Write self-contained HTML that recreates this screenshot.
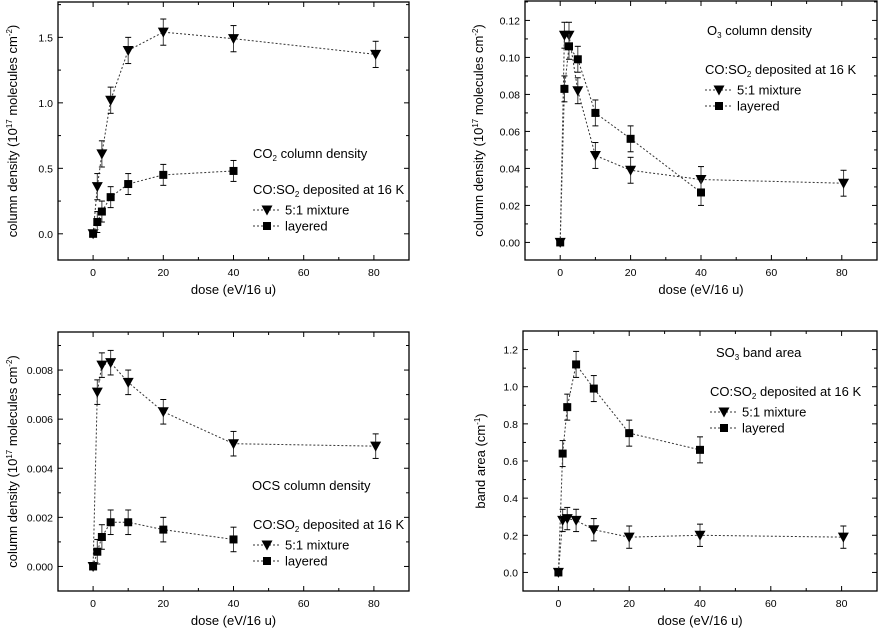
<!DOCTYPE html>
<html><head><meta charset="utf-8"><style>
body{margin:0;background:#fff}
svg{display:block;font-family:"Liberation Sans",Arial,sans-serif}
</style></head><body>
<svg id="s" width="878" height="628" viewBox="0 0 878 628"></svg>
<script>
const doseMix=[0,1.2,2.5,5,10,20,40,80.5];
const doseLay=[0,1.2,2.5,5,10,20,40];
const co2Mix=[0,0.36,0.61,1.02,1.40,1.54,1.49,1.37];
const co2Lay=[0,0.09,0.17,0.28,0.38,0.45,0.48];
const o3Mix=[0,0.112,0.112,0.082,0.047,0.039,0.034,0.032];
const o3Lay=[0,0.083,0.106,0.099,0.070,0.056,0.027];
const ocsMix=[0,0.0071,0.0082,0.0083,0.0075,0.0063,0.0050,0.0049];
const ocsLay=[0,0.0006,0.0012,0.0018,0.0018,0.0015,0.0011];
const so3Mix=[0,0.28,0.29,0.28,0.23,0.19,0.20,0.19];
const so3Lay=[0,0.64,0.89,1.12,0.99,0.75,0.66];
const xTicks=[0,20,40,60,80];
const co2Ticks=["0.0","0.5","1.0","1.5"];
const o3Ticks=["0.00","0.02","0.04","0.06","0.08","0.10","0.12"];
const ocsTicks=["0.000","0.002","0.004","0.006","0.008"];
const so3Ticks=["0.0","0.2","0.4","0.6","0.8","1.0","1.2"];

const svg=document.getElementById('s');
const NS='http://www.w3.org/2000/svg';
function mk(tag,attrs,parent,text){const e=document.createElementNS(NS,tag);for(const k in attrs)e.setAttribute(k,attrs[k]);if(text!==undefined)e.textContent=text;(parent||svg).appendChild(e);return e;}

const panels=[
 {name:'co2',L:58,R:409,T:2,B:260,ymin:-0.2,ymax:1.77,ticks:co2Ticks,step:0.5,mix:co2Mix,lay:co2Lay,emix:0.1,elay:0.08,
  ytitle:'column density (10<tspan font-size="8" dy="-5">17</tspan><tspan dy="5"> molecules cm</tspan><tspan font-size="8" dy="-5">-2</tspan><tspan dy="5">)</tspan>',ytx:17,
  title:['CO','2',' column density'],tx:253,ty:158,lx:253,ly:194},
 {name:'o3',L:525,R:877,T:1,B:260,ymin:-0.0095,ymax:0.1305,ticks:o3Ticks,step:0.02,mix:o3Mix,lay:o3Lay,emix:0.007,elay:0.007,
  ytitle:'column density (10<tspan font-size="8" dy="-5">17</tspan><tspan dy="5"> molecules cm</tspan><tspan font-size="8" dy="-5">-2</tspan><tspan dy="5">)</tspan>',ytx:483,
  title:['O','3',' column density'],tx:707,ty:35,lx:705,ly:74},
 {name:'ocs',L:58,R:409,T:332,B:591,ymin:-0.001,ymax:0.00955,ticks:ocsTicks,step:0.002,mix:ocsMix,lay:ocsLay,emix:0.0005,elay:0.0005,
  ytitle:'column density (10<tspan font-size="8" dy="-5">17</tspan><tspan dy="5"> molecules cm</tspan><tspan font-size="8" dy="-5">-2</tspan><tspan dy="5">)</tspan>',ytx:17,
  title:['OCS column density','',''],tx:252,ty:490,lx:253,ly:529},
 {name:'so3',L:523,R:877,T:331,B:591,ymin:-0.1,ymax:1.3,ticks:so3Ticks,step:0.2,mix:so3Mix,lay:so3Lay,emix:0.06,elay:0.07,
  ytitle:'band area (cm<tspan font-size="8" dy="-5">-1</tspan><tspan dy="5">)</tspan>',ytx:485,
  title:['SO','3',' band area'],tx:716,ty:357,lx:710,ly:396}
];

function tri(g,x,y,name){const e=mk('path',{d:`M${x-5.5},${y-4.5}L${x+5.5},${y-4.5}L${x},${y+5.5}Z`,fill:'#000'},g);}
function sq(g,x,y,name){const e=mk('rect',{x:x-4,y:y-4,width:8,height:8,fill:'#000'},g);}

panels.forEach(p=>{
 const g=mk('g',{});
 
 
 const xs=v=>p.L+(v+10)/100*(p.R-p.L);
 const ys=v=>p.B-(v-p.ymin)/(p.ymax-p.ymin)*(p.B-p.T);
 const fr=mk('rect',{x:p.L,y:p.T,width:p.R-p.L,height:p.B-p.T,fill:'none',stroke:'#000','stroke-width':1.3},g);
 
 for(let v=-10;v<=90;v+=10){const maj=v%20===0&&v>=0&&v<=80;const len=maj?5:3;const x=xs(v);
  mk('line',{x1:x,x2:x,y1:p.B,y2:p.B-len,stroke:'#000'},g);mk('line',{x1:x,x2:x,y1:p.T,y2:p.T+len,stroke:'#000'},g);}
 xTicks.forEach(v=>{const t=mk('text',{x:xs(v),y:p.B+16,'font-size':10.5,'text-anchor':'middle'},g,String(v));});
 const xt=mk('text',{x:(p.L+p.R)/2,y:p.B+34,'font-size':13,'text-anchor':'middle'},g,'dose (eV/16 u)');
 
 p.ticks.forEach((lab,i)=>{const v=i*p.step;const y=ys(v);
  mk('line',{x1:p.L,x2:p.L+5,y1:y,y2:y,stroke:'#000'},g);mk('line',{x1:p.R,x2:p.R-5,y1:y,y2:y,stroke:'#000'},g);
  const t=mk('text',{x:p.L-5,y:y+4,'font-size':10.5,'text-anchor':'end'},g,lab);});
 for(let i=-1;i<=p.ticks.length;i++){const v=(i+0.5)*p.step;const y=ys(v);if(y<p.T||y>p.B)continue;
  mk('line',{x1:p.L,x2:p.L+3,y1:y,y2:y,stroke:'#000'},g);mk('line',{x1:p.R,x2:p.R-3,y1:y,y2:y,stroke:'#000'},g);}
 const cy=(p.T+p.B)/2;
 const yt=mk('text',{x:p.ytx,y:cy,'font-size':13,'text-anchor':'middle',transform:`rotate(-90 ${p.ytx} ${cy})`},g);
 yt.innerHTML=p.ytitle;
 [[p.mix,doseMix,p.emix,'mixture',tri],[p.lay,doseLay,p.elay,'layered',sq]].forEach(([vals,dose,err,nm,mark])=>{
  const sg=mk('g',{},g);
  mk('polyline',{points:vals.map((v,i)=>xs(dose[i])+','+ys(v)).join(' '),fill:'none',stroke:'#333','stroke-width':1,'stroke-dasharray':'2,2'},sg);
  vals.forEach((v,i)=>{const x=xs(dose[i]);if(v!==0){const y1=ys(v+err),y2=ys(v-err);
   mk('line',{x1:x,x2:x,y1:y1,y2:y2,stroke:'#444'},sg);mk('line',{x1:x-3,x2:x+3,y1:y1,y2:y1,stroke:'#000'},sg);mk('line',{x1:x-3,x2:x+3,y1:y2,y2:y2,stroke:'#000'},sg);}
   mark(sg,x,ys(v),nm+'-point');});
 });
 const tt=mk('text',{x:p.tx,y:p.ty,'font-size':13},g);
 tt.innerHTML=p.title[0]+(p.title[1]?`<tspan font-size="8" dy="3">${p.title[1]}</tspan><tspan dy="-3">${p.title[2]}</tspan>`:'');
 
 const lt=mk('text',{x:p.lx,y:p.ly,'font-size':13},g);
 lt.innerHTML='CO:SO<tspan font-size="8" dy="3">2</tspan><tspan dy="-3"> deposited at 16 K</tspan>';
 
 [['5:1 mixture',tri,20],['layered',sq,36]].forEach(([lab,mark,dy])=>{
  const lg=mk('g',{},g);
  const y=p.ly+dy-4;
  mk('line',{x1:p.lx,x2:p.lx+28,y1:y,y2:y,stroke:'#333','stroke-dasharray':'2,2'},lg);
  mark(lg,p.lx+14,y,'legend-marker');
  mk('text',{x:p.lx+32,y:y+4.5,'font-size':13},lg,lab);
 });
});
</script>
</body></html>
